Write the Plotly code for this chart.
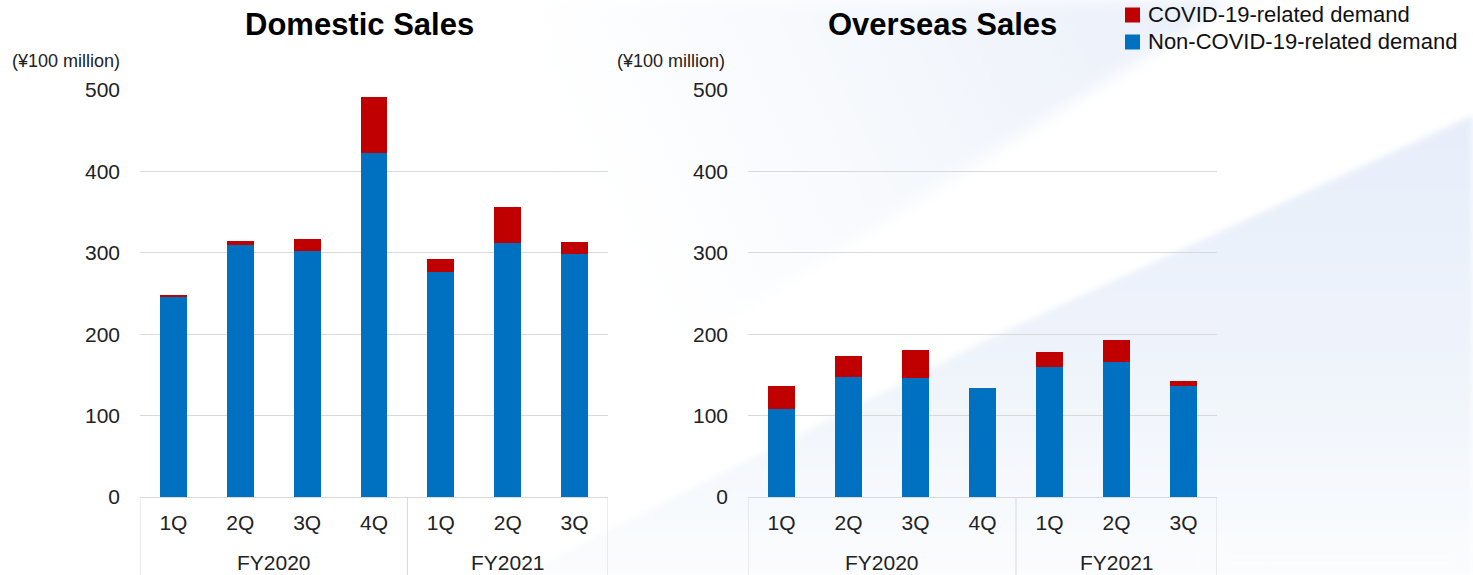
import base64
import plotly.graph_objects as go

fiscal_years = ["FY2020", "FY2020", "FY2020", "FY2020", "FY2021", "FY2021", "FY2021"]
quarters = ["1Q", "2Q", "3Q", "4Q", "1Q", "2Q", "3Q"]

domestic_non_covid = [246, 310, 302, 422, 277, 312, 299]
domestic_covid = [2, 4, 15, 70, 15, 44, 14]

overseas_non_covid = [108, 147, 146, 134, 160, 166, 136]
overseas_covid = [28, 26, 34, 0, 18, 27, 7]

y_ticks = [0, 100, 200, 300, 400, 500]

series_names = ["COVID-19-related demand", "Non-COVID-19-related demand"]

BLUE = "#0070C0"
RED = "#C00000"
FONT = "Liberation Sans, Arial, sans-serif"
GRID = "#d9d9d9"

W, H = 1473, 575
positions = list(range(len(quarters)))


def px_x(v):
    return v / W


def px_y(v):
    return 1 - v / H


fig = go.Figure()

for xa, ya, non_covid, covid in (("x", "y", domestic_non_covid, domestic_covid),
                                 ("x2", "y2", overseas_non_covid, overseas_covid)):
    fig.add_trace(go.Bar(x=positions, y=non_covid, name=series_names[1],
                         marker=dict(color=BLUE, line=dict(width=0)), xaxis=xa, yaxis=ya,
                         showlegend=False))
    fig.add_trace(go.Bar(x=positions, y=covid, name=series_names[0],
                         marker=dict(color=RED, line=dict(width=0)), xaxis=xa, yaxis=ya,
                         showlegend=False))

y_dom = [px_y(497), px_y(90)]
x1_dom = [px_x(140), px_x(608)]
x2_dom = [px_x(748), px_x(1217)]

xaxis_common = dict(
    range=[-0.5, len(quarters) - 0.5], tickvals=positions, ticktext=quarters,
    showline=True, linecolor=GRID, linewidth=1, zeroline=False,
    tickfont=dict(size=21, color="#222222", family=FONT), ticklabelstandoff=7,
    showgrid=False, ticks="", automargin=False, fixedrange=True,
)
yaxis_common = dict(
    range=[0, 500], tickvals=y_ticks, showgrid=True, gridcolor=GRID, gridwidth=1,
    zeroline=False, showline=False, ticks="", ticklabelstandoff=19,
    tickfont=dict(size=21, color="#222222", family=FONT), automargin=False, fixedrange=True,
)

# group labels and dividers derived from the fiscal-year array
groups = []
for i, fy in enumerate(fiscal_years):
    if not groups or groups[-1][0] != fy:
        groups.append([fy, i, i])
    else:
        groups[-1][2] = i

shapes = []
annotations = []
for xr in ("x", "x2"):
    bounds = [g[1] - 0.5 for g in groups] + [groups[-1][2] + 0.5]
    for b in bounds:
        shapes.append(dict(type="line", xref=xr, yref="paper", x0=b, x1=b,
                           y0=y_dom[0], y1=0, line=dict(color=GRID, width=1)))
    for fy, a, b in groups:
        annotations.append(dict(text=fy, x=(a + b) / 2, xref=xr, y=px_y(562), yref="paper",
                                showarrow=False, xanchor="center", yanchor="middle",
                                font=dict(size=21, color="#222222", family=FONT)))

# legend (key swatches + labels)
legend_rows = [(series_names[0], RED, 15), (series_names[1], BLUE, 42)]
for name, color, cy in legend_rows:
    shapes.append(dict(type="rect", xref="paper", yref="paper",
                       x0=px_x(1125), x1=px_x(1140), y0=px_y(cy - 7.5), y1=px_y(cy + 7.5),
                       fillcolor=color, line=dict(width=0)))
    annotations.append(dict(text=name, x=px_x(1146), y=px_y(cy), xref="paper", yref="paper",
                            showarrow=False, xanchor="left", yanchor="middle",
                            font=dict(size=22, color="#111111", family=FONT)))

annotations += [
    dict(text="<b>Domestic Sales</b>", x=px_x(359), y=px_y(25), xref="paper", yref="paper",
         showarrow=False, xanchor="center", yanchor="middle",
         font=dict(size=31, color="#000000", family=FONT)),
    dict(text="<b>Overseas Sales</b>", x=px_x(942), y=px_y(25), xref="paper", yref="paper",
         showarrow=False, xanchor="center", yanchor="middle",
         font=dict(size=31, color="#000000", family=FONT)),
    dict(text="(¥100 million)", x=px_x(10), y=px_y(61), xref="paper", yref="paper",
         showarrow=False, xanchor="left", yanchor="middle",
         font=dict(size=18, color="#222222", family=FONT)),
    dict(text="(¥100 million)", x=px_x(615), y=px_y(61), xref="paper", yref="paper",
         showarrow=False, xanchor="left", yanchor="middle",
         font=dict(size=18, color="#222222", family=FONT)),
]

# soft decorative background
svg = f"""<svg xmlns='http://www.w3.org/2000/svg' width='{W}' height='{H}' viewBox='0 0 {W} {H}'>
<defs>
<linearGradient id='g1' x1='1' y1='0' x2='0' y2='0.3'>
<stop offset='0' stop-color='#e3ebf8' stop-opacity='0.85'/>
<stop offset='0.6' stop-color='#edf2fa' stop-opacity='0.45'/>
<stop offset='1' stop-color='#f3f6fb' stop-opacity='0'/>
</linearGradient>
<linearGradient id='g2' x1='0' y1='0' x2='0' y2='1'>
<stop offset='0' stop-color='#e6eef9' stop-opacity='1'/>
<stop offset='0.55' stop-color='#eff4fb' stop-opacity='1'/>
<stop offset='1' stop-color='#fbfcfe' stop-opacity='1'/>
</linearGradient>
<filter id='b1' x='-20%' y='-20%' width='140%' height='140%'><feGaussianBlur stdDeviation='8'/></filter>
<filter id='b2' x='-20%' y='-20%' width='140%' height='140%'><feGaussianBlur stdDeviation='3'/></filter>
</defs>
<rect width='{W}' height='{H}' fill='white'/>
<polygon points='540,0 1235,0 600,400 540,440' fill='url(#g1)' filter='url(#b1)'/>
<polygon points='1473,115 1000,333 520,575 1473,575' fill='url(#g2)' filter='url(#b2)'/>
<rect x='1210' y='545' width='263' height='30' fill='#fbfcfe' opacity='0.6' filter='url(#b1)'/>
</svg>"""
bg_uri = "data:image/svg+xml;base64," + base64.b64encode(svg.encode("utf-8")).decode("ascii")

fig.update_layout(
    width=W, height=H,
    margin=dict(l=0, r=0, t=0, b=0),
    barmode="stack", bargap=0.6,
    paper_bgcolor="white", plot_bgcolor="rgba(0,0,0,0)",
    font=dict(family=FONT),
    xaxis=dict(domain=x1_dom, anchor="y", **xaxis_common),
    yaxis=dict(domain=y_dom, anchor="x", **yaxis_common),
    xaxis2=dict(domain=x2_dom, anchor="y2", **xaxis_common),
    yaxis2=dict(domain=y_dom, anchor="x2", **yaxis_common),
    images=[dict(source=bg_uri, xref="paper", yref="paper", x=0, y=1, sizex=1, sizey=1,
                 xanchor="left", yanchor="top", sizing="stretch", layer="below")],
    shapes=shapes,
    annotations=annotations,
    showlegend=False,
)

fig.write_html("out.html", config={"displayModeBar": False},
               post_script="document.body.style.margin='0';")
